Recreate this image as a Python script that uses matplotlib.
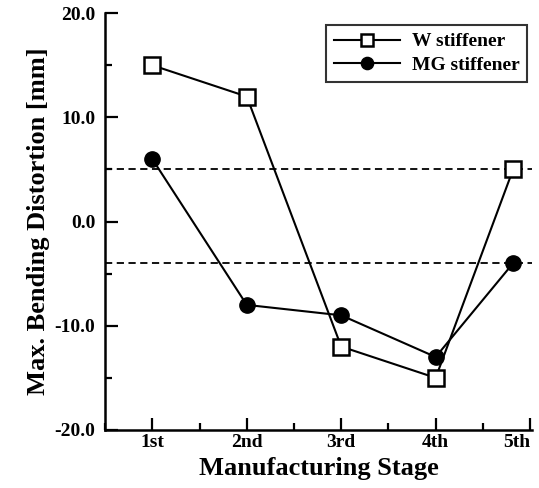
import numpy as np
import matplotlib.pyplot as plt
from matplotlib.ticker import MultipleLocator

plt.rcParams['font.family'] = ['Liberation Serif', 'DejaVu Serif']
plt.rcParams['font.weight'] = 'bold'

stages = ['1st', '2nd', '3rd', '4th', '5th']
stage_pos = [1, 2, 3, 4, 5]
point_pos = [1, 2, 3, 4, 4.82]
w_stiff = [15, 12, -12, -15, 5]
mg_stiff = [6, -8, -9, -13, -4]
limits = [5, -4]

fig = plt.figure(figsize=(5.39, 4.88), dpi=100)
ax = fig.add_axes([0.195, 0.119, 0.792, 0.854])

for lim in limits:
    ax.axhline(lim, color='black', linestyle=(0, (4, 2.5)), linewidth=1.3, zorder=1)

ax.plot(point_pos, w_stiff, color='black', linewidth=1.5, marker='s', markersize=11,
        markerfacecolor='white', markeredgecolor='black', markeredgewidth=1.8,
        label='W stiffener', zorder=3)
ax.plot(point_pos, mg_stiff, color='black', linewidth=1.5, marker='o', markersize=11,
        markerfacecolor='black', label='MG stiffener', zorder=3)

ax.set_xlim(0.5, 5.02)
ax.set_ylim(-20, 20)
ax.set_xticks(stage_pos)
ax.set_xticklabels(stages)
ax.get_xticklabels()[-1].set_horizontalalignment('right')
ax.xaxis.set_minor_locator(MultipleLocator(0.5))
ax.yaxis.set_major_locator(MultipleLocator(10))
ax.yaxis.set_minor_locator(MultipleLocator(5))
ax.yaxis.set_major_formatter(lambda v, p: f'{v:.1f}')

ax.spines['top'].set_visible(False)
ax.spines['right'].set_visible(False)
for s in ['left', 'bottom']:
    ax.spines[s].set_linewidth(1.8)

ax.tick_params(which='major', direction='in', length=9, width=1.6, labelsize=14, pad=7)
ax.tick_params(axis='x', which='major', pad=3)
ax.tick_params(which='minor', direction='in', length=5, width=1.6)

ax.set_xlabel('Manufacturing Stage', fontsize=19, fontweight='bold', labelpad=4)
ax.set_ylabel('Max. Bending Distortion [mm]', fontsize=19, fontweight='bold', labelpad=3)

leg = ax.legend(loc='upper right', bbox_to_anchor=(1.012, 0.995), fontsize=14,
                frameon=True, fancybox=False, edgecolor='black', handlelength=3.4,
                borderpad=0.4, labelspacing=0.3, handletextpad=0.6, markerscale=0.8)
leg.get_frame().set_linewidth(1.5)

fig.savefig('out.png', dpi=100)
